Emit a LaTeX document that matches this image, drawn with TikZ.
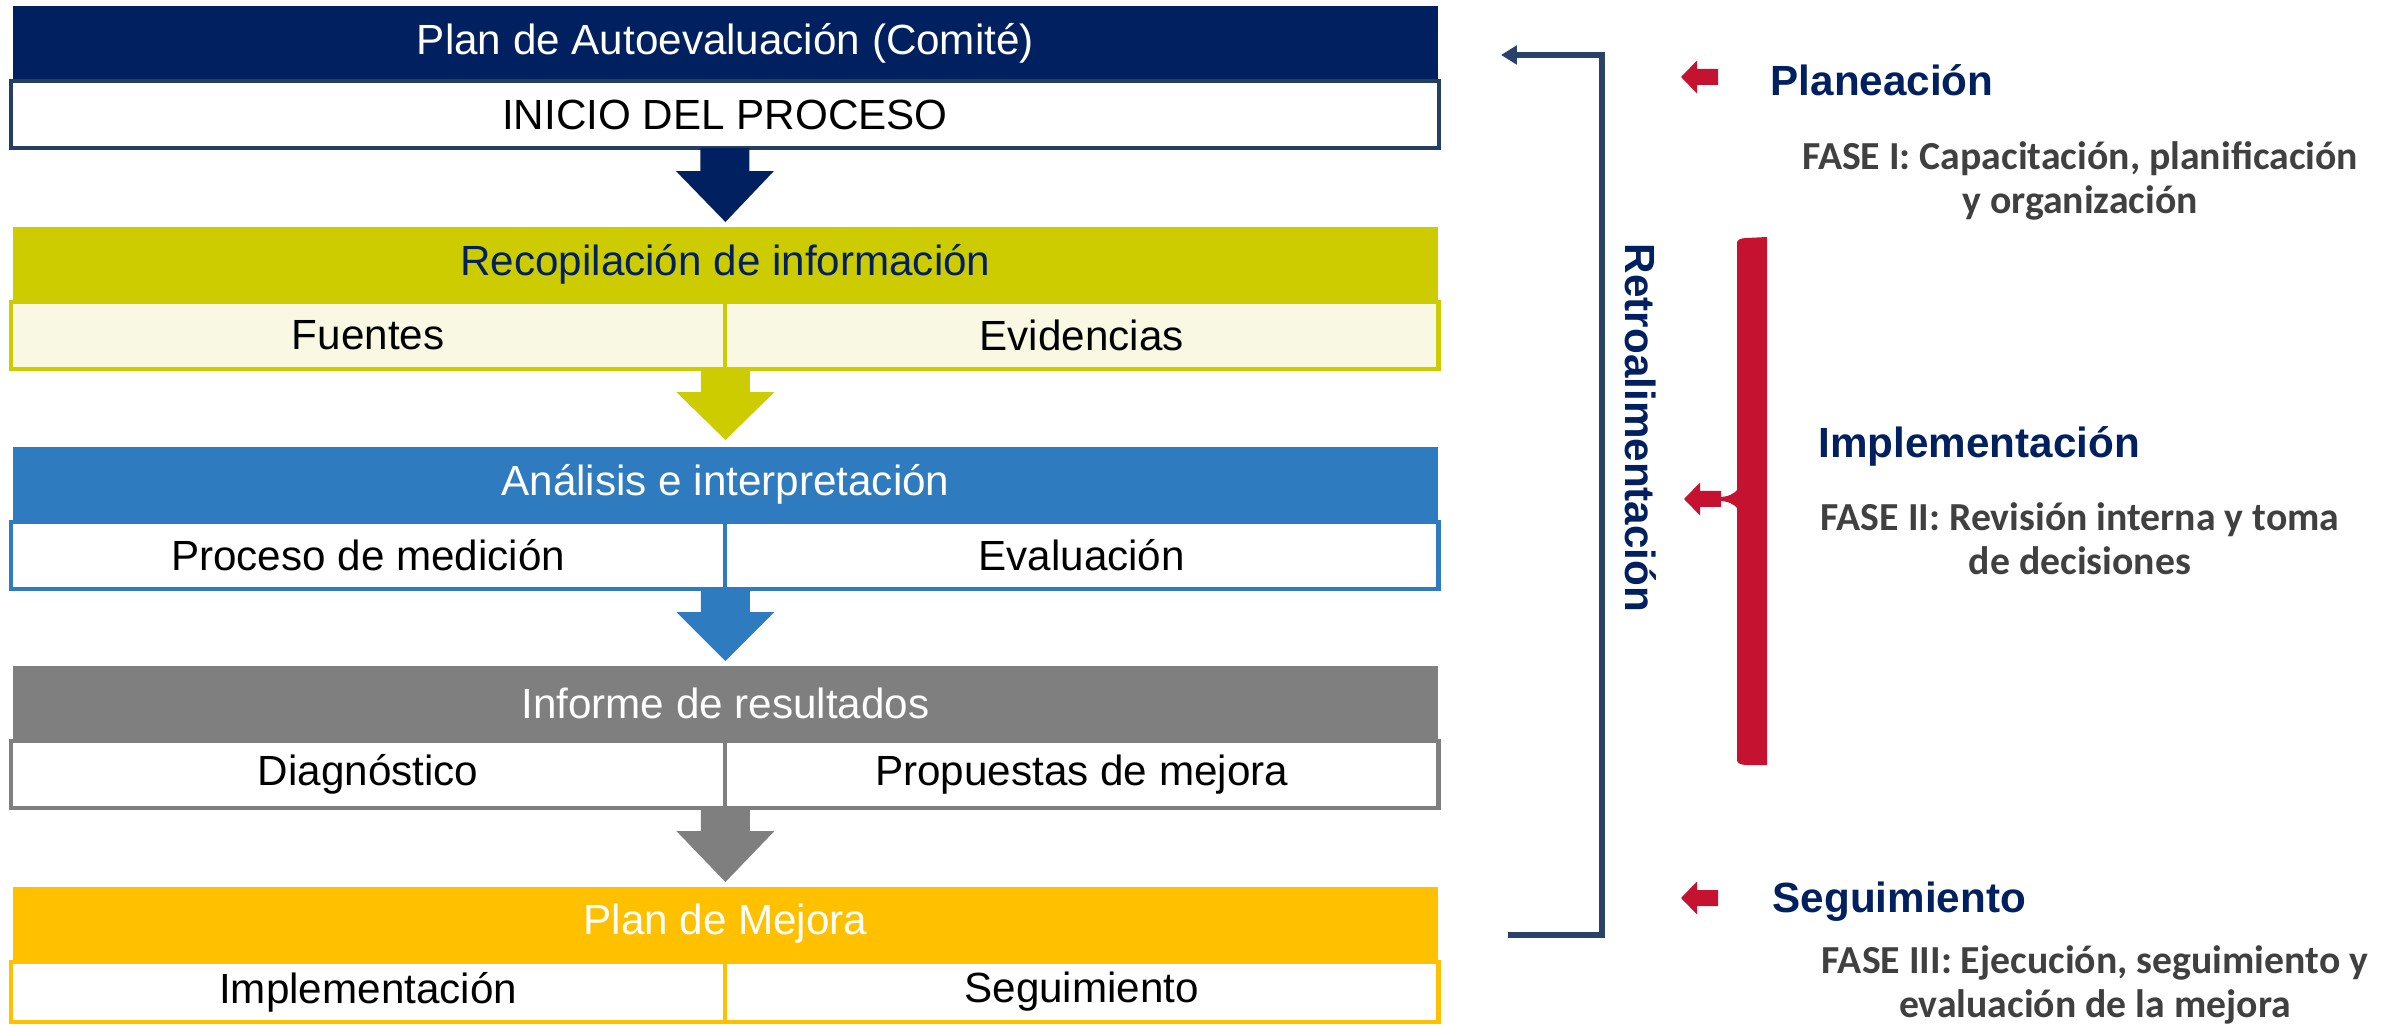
\documentclass[tikz,border=0pt]{standalone}
\usepackage{fontspec}
\setmainfont{Liberation Sans}
\newfontfamily\calib{Carlito}
\usetikzlibrary{calc,arrows.meta}
\definecolor{navy}{HTML}{002060}
\definecolor{frame}{HTML}{243F60}
\definecolor{olive}{HTML}{CCCC00}
\definecolor{cream}{HTML}{F8F8E3}
\definecolor{azul}{HTML}{2E7BBF}
\definecolor{gris}{HTML}{7F7F7F}
\definecolor{oro}{HTML}{FFC000}
\definecolor{rojo}{HTML}{C41230}
\definecolor{fasegray}{HTML}{404040}
\definecolor{fbline}{HTML}{28426A}
\newcommand\blockarrow[3]{%
  \fill[#3] ($(#1)+(-24.5,0)$) -- ($(#1)+(24.5,0)$) -- ($(#1)+(24.5,23)$) -- ($(#1)+(49,23)$) -- (#2) -- ($(#1)+(-49,23)$) -- ($(#1)+(-24.5,23)$) -- cycle;}
\newcommand\redarrow[2]{% #1 tip, #2 body length
  \fill[rojo] (#1) -- ($(#1)+(16,-16.5)$) -- ($(#1)+(16,-8)$) -- ($(#1)+(#2,-8)$) -- ($(#1)+(#2,8)$) -- ($(#1)+(16,8)$) -- ($(#1)+(16,16.5)$) -- cycle;}
\begin{document}
\begin{tikzpicture}[x=0.01cm,y=-0.01cm,
  hdr/.style={anchor=north west, inner sep=0pt, outer sep=0pt, minimum width=14.24cm, minimum height=0.74cm, font=\fontsize{12}{14}\selectfont, text=white},
  cell/.style={anchor=north west, inner sep=0pt, outer sep=0pt, minimum width=7.14cm, minimum height=0.67cm, line width=1.2pt, fill=white, font=\fontsize{12}{14}\selectfont},
  cellwide/.style={cell, minimum width=14.27cm},
  phase/.style={anchor=west, inner sep=0pt, font=\bfseries\fontsize{12}{14}\selectfont, text=navy},
  fase/.style={align=center, inner sep=0pt, font=\calib\bfseries\fontsize{11.3}{12.4}\selectfont, text=fasegray},
]
\useasboundingbox (0,0) rectangle (2389,1025);

% Block 1
\node[hdr, fill=navy] (h1) at (13,6) {Plan de Autoevaluación (Comité)};
\node[cellwide, draw=frame] (c1) at (11,81) {INICIO DEL PROCESO};
% Block 2
\node[hdr, fill=olive, text=navy] (h2) at (13,227) {Recopilación de información};
\node[cell, draw=olive, fill=cream] (c2l) at (11,302) {Fuentes};
\node[cell, draw=olive, fill=cream, minimum width=7.13cm] (c2r) at (725,302) {Evidencias};
% Block 3
\node[hdr, fill=azul] (h3) at (13,447) {Análisis e interpretación};
\node[cell, draw=azul] (c3l) at (11,522) {Proceso de medición};
\node[cell, draw=azul, minimum width=7.13cm] (c3r) at (725,522) {Evaluación};
% Block 4
\node[hdr, fill=gris] (h4) at (13,666) {Informe de resultados};
\node[cell, draw=gris] (c4l) at (11,741) {Diagnóstico};
\node[cell, draw=gris, minimum width=7.13cm] (c4r) at (725,741) {Propuestas de mejora};
% Block 5
\node[hdr, fill=oro] (h5) at (13,887) {Plan de Mejora};
\node[cell, draw=oro, minimum height=0.60cm] (c5l) at (11,962) {Implementación};
\node[cell, draw=oro, minimum width=7.13cm, minimum height=0.60cm] (c5r) at (725,962) {Seguimiento};

% block arrows
\coordinate (a1s) at (c1.south);
\coordinate (a1t) at ($(h2.north)+(0,-5)$);
\blockarrow{a1s}{a1t}{navy}
\coordinate (a2s) at (c2l.south east);
\coordinate (a2t) at ($(h3.north)+(0,-7)$);
\blockarrow{a2s}{a2t}{olive}
\coordinate (a3s) at (c3l.south east);
\coordinate (a3t) at ($(h4.north)+(0,-5)$);
\blockarrow{a3s}{a3t}{azul}
\coordinate (a4s) at (c4l.south east);
\coordinate (a4t) at ($(h5.north)+(0,-5)$);
\blockarrow{a4s}{a4t}{gris}

% feedback line
\coordinate (fbA) at (1501,55);
\coordinate (fbB) at (1602,55);
\coordinate (fbC) at (1602,935);
\coordinate (fbD) at (1508,935);
\draw[fbline, line width=1.7pt, -{Triangle[length=4.5pt,width=5.2pt]}] (fbD) -- (fbC) -- (fbB) -- (fbA);
\node[rotate=-90, inner sep=0pt, font=\bfseries\fontsize{12}{14}\selectfont, text=navy] (retro) at (1641,428) {Retroalimentación};

% red bar
\fill[rojo] (1767,237) -- (1767,765) -- (1747,765) .. controls (1740,765) and (1737,763) .. (1737,760) -- (1737,243) .. controls (1737,240) and (1740,238) .. (1747,238) -- cycle;
\coordinate (r2) at (1684,499);
\redarrow{r2}{37}
\fill[rojo] (1719,497) .. controls (1728,497) and (1734,494) .. (1738,489) -- (1738,509) .. controls (1734,504) and (1728,501) .. (1719,501) -- cycle;

% phases
\coordinate (r1) at (1681,77);
\redarrow{r1}{37}
\node[phase] (plan) at (1770,80) {Planeación};
\node[fase] (f1) at (2080,181) {FASE I: Capacitación, planificación\\y organización};

\node[phase] (impl) at (1818,446) {Implementación};
\node[fase] (f2) at (2080,539) {FASE II: Revisión interna y toma\\de decisiones};

\coordinate (r3) at (1681,898);
\redarrow{r3}{37}
\node[phase] (seg) at (1772,902) {Seguimiento};
\node[fase] (f3) at (2095,985) {FASE III: Ejecución, seguimiento y\\evaluación de la mejora};
\end{tikzpicture}
\end{document}
